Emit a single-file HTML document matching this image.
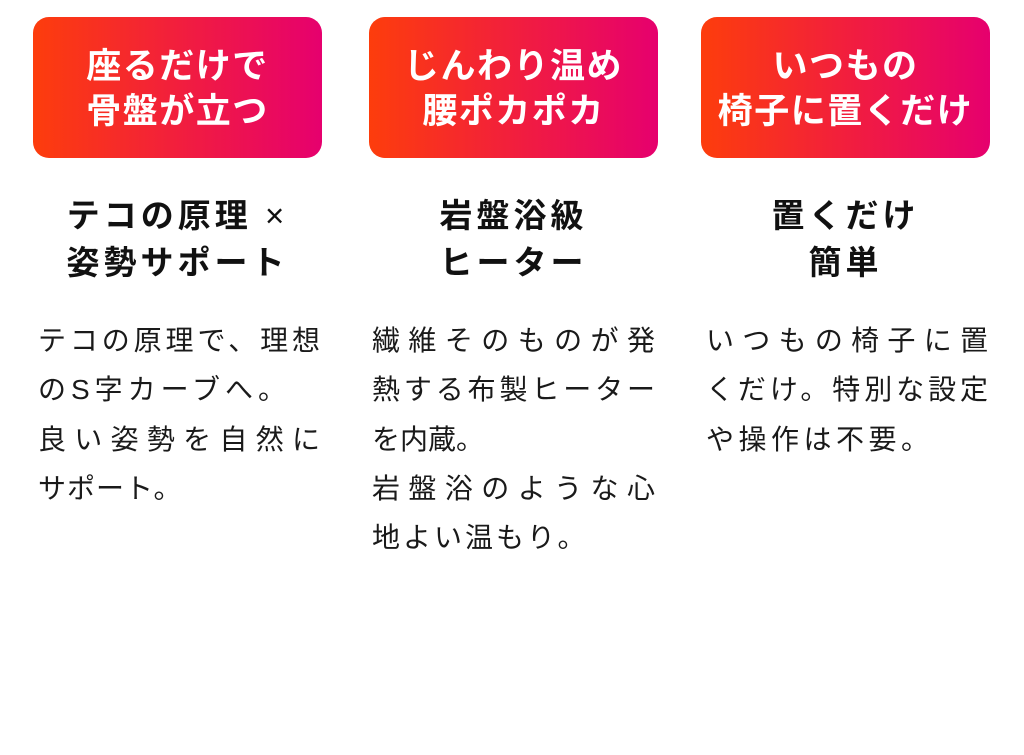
<!DOCTYPE html>
<html><head><meta charset="utf-8"><style>
body{margin:0;width:1024px;height:755px;background:#fff;position:relative;font-family:"Liberation Sans","Noto Sans CJK JP",sans-serif;overflow:hidden}
.b{position:absolute;top:17px;height:141px;width:289px;border-radius:16px;background:linear-gradient(90deg,#fd3d0c,#e6006e);color:#fff;font-weight:700;font-size:35px;letter-spacing:1.5px;text-align:center;line-height:45px;box-sizing:border-box;padding-top:27px}
.h{position:absolute;top:192px;width:289px;text-align:center;font-weight:700;font-size:33px;line-height:47px;letter-spacing:4px;color:#111}
.t{position:absolute;top:316px;width:283px;font-size:28px;line-height:49.3px;color:#1a1a1a}
.t div{white-space:nowrap}
.j{text-align:justify;text-align-last:justify;white-space:normal!important}
</style></head><body>
<div class="b" style="left:33px">座るだけで<br>骨盤が立つ</div>
<div class="b" style="left:369px">じんわり温め<br>腰ポカポカ</div>
<div class="b" style="left:701px">いつもの<br>椅子に置くだけ</div>
<div class="h" style="left:33px">テコの原理 <span style="font-weight:400">×</span><br>姿勢サポート</div>
<div class="h" style="left:369px">岩盤浴級<br>ヒーター</div>
<div class="h" style="left:701px">置くだけ<br>簡単</div>
<div class="t" style="left:38px;width:282px"><div class="j">テコの原理で、理想</div><div style="letter-spacing:5px">のS字カーブへ。</div><div class="j">良い姿勢を自然に</div><div style="letter-spacing:1px">サポート。</div></div>
<div class="t" style="left:372px"><div class="j">繊維そのものが発</div><div class="j">熱する布製ヒーター</div><div style="letter-spacing:0px">を内蔵。</div><div class="j">岩盤浴のような心</div><div style="letter-spacing:3px">地よい温もり。</div></div>
<div class="t" style="left:706px;width:282px"><div class="j">いつもの椅子に置</div><div class="j">くだけ。特別な設定</div><div style="letter-spacing:4.5px">や操作は不要。</div></div>
</body></html>
